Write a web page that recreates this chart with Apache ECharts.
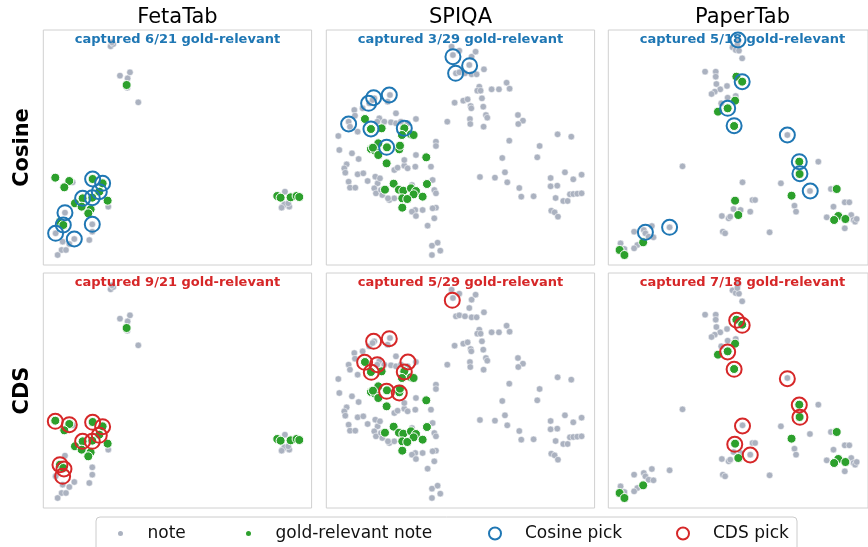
<!DOCTYPE html>
<html lang="en">
<head>
<meta charset="UTF-8">
<title>Cosine vs CDS picks</title>
<script src="https://cdn.jsdelivr.net/npm/echarts@6/dist/echarts.min.js"></script>
<style>
  html, body { margin: 0; padding: 0; background: #fff; }
  #chart { width: 868px; height: 547px; }
</style>
</head>
<body>
<div id="chart"></div>
<script>
// embedding coordinates (arbitrary units, y grows downward)
var datasets = ['FetaTab', 'SPIQA', 'PaperTab']
var rowNames = ['Cosine', 'CDS']
var goldTotal = [21, 29, 18]
var cosineCaptured = [6, 3, 5]
var cdsCaptured = [9, 5, 7]

var fetaNotes = [[212,64],[220,57],[216,52],[240,152],[270,142],[263,160],[262,188],[295,232],
  [98,472],[205,545],[75,563],[157,598],[157,620],[47,625],[103,642],[68,650],[148,645],[88,657],
  [65,675],[78,675],[53,690],[735,500],[727,545],[740,540],[748,545],[733,538],[725,548],[745,535]]
var fetaGold = [[260,180],[46,458],[88,468],[73,487],[158,462],[188,475],[178,500],[157,518],
  [128,520],[105,535],[125,545],[152,553],[145,565],[203,527],[60,590],[70,600],
  [712,513],[722,518],[752,517],[770,513],[778,516]]
var fetaCosine = [[158,462],[188,475],[178,500],[157,518],[128,520],[75,563],[70,600],[47,625],[103,642],[157,598]]
var fetaCds = [[46,460],[88,470],[158,463],[188,476],[178,502],[157,520],[128,520],[60,590],[72,603],[68,625]]

var spiqaNotes = [[386,65],[390,90],[409,77],[446,95],[458,80],[439,120],[399,145],[409,142],[426,145],
  [446,148],[461,148],[483,133],[469,185],[463,197],[473,197],[506,193],[528,193],[551,173],[560,191],
  [395,233],[421,227],[434,223],[443,243],[445,250],[477,220],[481,245],[489,270],[493,278],[441,282],
  [442,297],[482,305],[373,290],[585,270],[600,287],[586,297],[559,347],[704,328],[745,335],[650,363],
  [643,397],[538,399],[471,456],[516,458],[546,442],[553,472],[589,489],[595,515],[632,514],[683,459],
  [683,484],[703,482],[726,442],[751,463],[776,449],[698,519],[721,528],[734,528],[741,508],[751,507],
  [763,506],[776,505],[685,557],[695,562],[705,575],
  [154,220],[201,210],[139,235],[149,225],[194,230],[94,255],[119,250],[96,272],[77,290],[81,305],
  [104,320],[46,333],[169,280],[184,290],[204,292],[219,295],[234,290],[254,295],[279,282],[219,265],
  [163,290],[49,375],[87,385],[107,402],[71,418],[64,430],[67,443],[104,448],[121,445],[77,470],
  [81,488],[97,488],[134,468],[157,455],[164,475],[171,460],[154,490],[159,505],[174,495],[199,525],
  [214,520],[214,435],[224,428],[244,422],[254,430],[277,425],[279,390],[244,405],[267,480],[329,465],
  [339,350],[339,363],[324,425],[334,495],[339,505],[339,548],[329,550],[277,555],[299,555],[267,560],
  [279,573],[334,580],[314,602],[327,662],[344,653],[352,677],[327,690],[178,510],[195,520]]
var spiqaGold = [[126,282],[144,312],[176,310],[244,310],[237,330],[264,328],[272,330],[144,372],
  [156,377],[166,355],[166,390],[192,367],[229,373],[231,362],[191,415],[310,397],[212,476],[186,494],
  [228,494],[241,497],[264,490],[279,498],[272,508],[238,520],[253,522],[299,515],[312,477],[238,548],[150,368]]
var spiqaCosine = [[390,95],[440,122],[398,145],[152,218],[137,235],[199,210],[77,297],[144,312],[244,310],[191,367]]
var spiqaCds = [[388,97],[152,220],[199,212],[125,283],[163,290],[255,282],[145,313],[244,312],[191,370],[229,375]]

var paperNotes = [[413,47],[395,67],[405,75],[415,77],[425,100],[410,60],
  [310,140],[343,140],[343,155],[345,177],[378,183],[357,193],[340,200],[330,207],[360,235],[380,218],[405,213],
  [565,330],[661,410],[240,424],[426,472],[545,475],[635,498],[700,492],[587,542],[592,560],[708,545],
  [743,532],[757,532],[687,577],[763,570],[770,585],[775,590],[780,582],[743,610],[510,622],
  [457,525],[465,525],[398,552],[420,555],[450,560],[362,573],[383,580],[388,575],[365,620],[372,625],
  [200,607],[145,603],[90,620],[120,615],[125,625],[135,635],[150,637],[100,660],[90,670],[48,655],[60,672]]
var paperGold = [[407,155],[425,170],[403,227],[380,250],[350,260],[400,303],[602,410],[603,447],
  [718,492],[578,512],[403,527],[413,570],[723,573],[710,585],[745,582],[118,652],[45,675],[60,690]]
var paperCosine = [[412,45],[425,170],[380,250],[400,302],[565,330],[602,410],[604,446],[636,498],[125,622],[200,607]]
var paperCds = [[408,157],[425,172],[380,252],[400,304],[565,332],[602,411],[604,448],[426,474],[402,529],[450,561]]

var notes = [fetaNotes, spiqaNotes, paperNotes]
var gold = [fetaGold, spiqaGold, paperGold]
var picks = [[fetaCosine, spiqaCosine, paperCosine], [fetaCds, spiqaCds, paperCds]]
var captured = [cosineCaptured, cdsCaptured]

var GRAY = '#abb2c0', GREEN = '#2ca02c', BLUE = '#1f77b4', RED = '#d62728'
var pickColor = [BLUE, RED]
var pickName = ['Cosine pick', 'CDS pick']
var FONT = 'DejaVu Sans'

var colLeft = [43.3, 326.3, 608.3]
var rowTop = [30, 273]
var panelW = 268.3, panelH = 235

var grids = [], xAxes = [], yAxes = [], series = [], titles = []

datasets.forEach(function (name, c) {
  titles.push({
    text: name, left: colLeft[c] + panelW / 2, top: 7, textAlign: 'center', padding: 0,
    textStyle: { fontFamily: FONT, fontSize: 21, fontWeight: 'normal', color: '#000' }
  })
})

rowNames.forEach(function (rowName, r) {
  datasets.forEach(function (name, c) {
    var g = grids.length
    grids.push({
      left: colLeft[c], top: rowTop[r], width: panelW, height: panelH,
      show: true, borderColor: '#d0d0d0', borderWidth: 1, backgroundColor: '#fff'
    })
    xAxes.push({
      gridIndex: g, type: 'value', min: 10, max: 815,
      axisLine: { show: false }, axisTick: { show: false }, axisLabel: { show: false }, splitLine: { show: false }
    })
    yAxes.push({
      gridIndex: g, type: 'value', min: 15, max: 720, inverse: true,
      name: c === 0 ? rowName : '', nameLocation: 'middle', nameRotate: 90, nameGap: 10,
      nameTextStyle: { fontFamily: FONT, fontSize: 21, fontWeight: 'bold', color: '#000' },
      axisLine: { show: false }, axisTick: { show: false }, axisLabel: { show: false }, splitLine: { show: false }
    })
    titles.push({
      text: 'captured ' + captured[r][c] + '/' + goldTotal[c] + ' gold-relevant',
      left: colLeft[c] + panelW / 2, top: rowTop[r] + 3, textAlign: 'center', padding: 0,
      textStyle: { fontFamily: FONT, fontSize: 13, fontWeight: 'bold', color: pickColor[r] }
    })
    series.push({
      name: 'note', type: 'scatter', xAxisIndex: g, yAxisIndex: g, data: notes[c],
      symbolSize: 6.5, z: 2, silent: true,
      itemStyle: { color: GRAY, borderColor: '#fff', borderWidth: 0.5, opacity: 1 }
    })
    series.push({
      name: 'gold-relevant note', type: 'scatter', xAxisIndex: g, yAxisIndex: g, data: gold[c],
      symbolSize: 9, z: 3, silent: true,
      itemStyle: { color: GREEN, borderColor: '#fff', borderWidth: 1, opacity: 1 }
    })
    series.push({
      name: pickName[r], type: 'scatter', xAxisIndex: g, yAxisIndex: g, data: picks[r][c],
      symbolSize: 15, z: 4, silent: true,
      itemStyle: { color: 'rgba(0,0,0,0)', borderColor: pickColor[r], borderWidth: 2, opacity: 1 }
    })
  })
})

var legendItems = [
  { name: 'note', left: 116, w: 44, h: 7 },
  { name: 'gold-relevant note', left: 244, w: 44, h: 7 },
  { name: 'Cosine pick', left: 488, w: 50, h: 12 },
  { name: 'CDS pick', left: 676, w: 50, h: 12 }
]

var option = {
  animation: false,
  backgroundColor: '#fff',
  title: titles,
  grid: grids,
  xAxis: xAxes,
  yAxis: yAxes,
  series: series,
  legend: legendItems.map(function (it) {
    return {
      data: [it.name], left: it.left, top: 525, padding: 0, selectedMode: false,
      itemWidth: it.w, itemHeight: it.h,
      textStyle: { fontFamily: FONT, fontSize: 17, color: '#111' }
    }
  }),
  graphic: [{
    type: 'rect', z: 0,
    shape: { x: 96, y: 517, width: 701, height: 40, r: 4 },
    style: { fill: '#fff', stroke: '#cccccc', lineWidth: 1 }
  }]
}

var myChart = echarts.init(document.getElementById('chart'), null, { renderer: 'canvas' })
myChart.setOption(option)
window.addEventListener('resize', myChart.resize)
</script>
</body>
</html>
